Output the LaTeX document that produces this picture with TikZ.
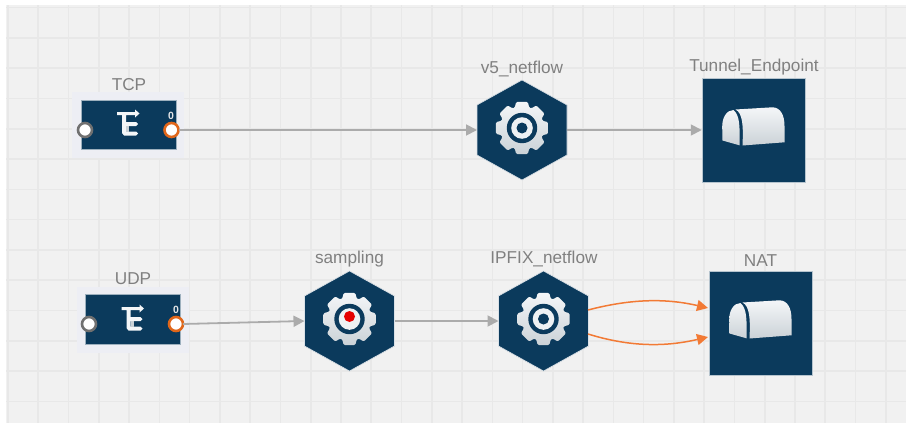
\documentclass[tikz,border=0pt]{standalone}
\usepackage{fontspec}
\setmainfont{Liberation Sans}
\usetikzlibrary{arrows.meta}
\definecolor{navy}{HTML}{0B3A5C}
\definecolor{bggrey}{HTML}{F1F1F1}
\definecolor{gridgrey}{HTML}{E8E8E8}
\definecolor{halo}{HTML}{EDEEF4}
\definecolor{linkgrey}{HTML}{ABABAB}
\definecolor{linkorange}{HTML}{F27A35}
\definecolor{portorange}{HTML}{E0661A}
\definecolor{portgrey}{HTML}{707070}
\definecolor{labelgrey}{HTML}{808080}
\definecolor{iconhi}{HTML}{F4F6F8}
\definecolor{iconlo}{HTML}{CBD2D7}
\tikzset{
  every node/.style={inner sep=0pt,outer sep=0pt},
  lbl/.style={text=labelgrey,font=\fontsize{17.2}{19}\selectfont},
  hexbox/.style={minimum width=90pt,minimum height=100pt},
  sqbox/.style={fill=navy,draw=white!70!navy,line width=.5pt,minimum width=103.5pt,minimum height=104pt},
  srcbox/.style={fill=navy,draw=white!60!navy,line width=.5pt,minimum width=95pt,minimum height=49.5pt},
  haloBox/.style={fill=halo,minimum width=112pt,minimum height=66pt},
  portIn/.style={circle,fill=white,draw=portgrey,line width=2.6pt,minimum size=14pt},
  portOut/.style={circle,fill=white,draw=portorange,line width=2.6pt,minimum size=14pt},
  greylink/.style={draw=linkgrey,line width=1.8pt,-{Triangle[length=11pt,width=11pt]}},
  orangelink/.style={draw=linkorange,line width=1.5pt,-{Triangle[length=11pt,width=11pt]}},
  metal/.style={top color=iconhi,bottom color=iconlo,draw=none},
}
% hexagon node with a gear icon
\newcommand{\gearhex}[4]{%
  \node[hexbox] (#1) at (#2,#3) {};
  \fill[navy,draw=white!85!navy,line width=.6pt] (#2,#3-50) -- (#2+45,#3-25) -- (#2+45,#3+25) -- (#2,#3+50) -- (#2-45,#3+25) -- (#2-45,#3-25) -- cycle;
  \begin{scope}[shift={(#2,#3-2)}]
    \shade[metal,rounded corners=1.2pt] (-20:21.5)
      \foreach \a in {0,45,...,315} { -- (\a-20:21.5) -- (\a-12.5:26.7) -- (\a+12.5:26.7) -- (\a+20:21.5) }
      -- cycle;
    \fill[navy] (0,0) circle (15.2);
    \fill[iconhi!85!iconlo] (0,0) circle (10.8);
    #4
  \end{scope}
}
% mailbox-like tunnel icon
\newcommand{\tunnelicon}[2]{%
  \begin{scope}[shift={(#1,#2)}]
    \shade[metal] (-11,15.5) -- (31,12.3) -- (31,-4) .. controls (31,-15) and (27,-22.5) .. (19,-22.7)
       -- (-18,-20.5) .. controls (-11,-17) and (-10,-5) .. (-11,15.5) -- cycle;
    \shade[metal] (-31,10.5) -- (-14,15.3) .. controls (-13.5,-5) and (-14,-15) .. (-20,-20)
       .. controls (-27,-20) and (-31.5,-12) .. (-31.3,-3) -- cycle;
  \end{scope}
}
% source icon
\newcommand{\sourceicon}[2]{%
  \begin{scope}[shift={(#1,#2)}]
    \fill[iconhi] (-11,-11) -- (7,-11) -- (7,-13.5) -- (11.5,-9.5) -- (7,-5.5) -- (7,-7.8) -- (3,-7.8) -- (-2,-7.8) -- (-2,-1) -- (8,-1) -- (10,1) -- (8,3) -- (-2,3) -- (-2,8.5) -- (8,8.5) -- (10,10.5) -- (8,12.5) -- (-4,12.5) -- (-6,10) -- (-6,-7.8) -- (-11,-7.8) -- cycle;
    \fill[iconlo] (-2,3) rectangle (1,8.5);
  \end{scope}
}
\begin{document}
\begin{tikzpicture}[x=1pt,y=-1pt]
\useasboundingbox (0,0) rectangle (906,423);
\fill[white] (0,0) rectangle (906,423);
\fill[bggrey] (6,5) rectangle (906,423);
\foreach \i in {0,...,29} \draw[gridgrey,line width=1.6pt] ({8+30.27*\i},5) -- ({8+30.27*\i},423);
\foreach \j in {0,...,13} \draw[gridgrey,line width=1.6pt] (6,{7.5+30.3*\j}) -- (906,{7.5+30.3*\j});

% sources
\node[haloBox] (tcphalo) at (128,125) {};
\node[srcbox] (tcp) at (128.5,124.5) {};
\sourceicon{128}{123}
\node[portIn] (tcpin) at (85,130) {};
\node[portOut] (tcpout) at (171.5,130) {};
\node[text=iconhi!85!labelgrey,font=\fontsize{10.5}{12}\selectfont\bfseries] at (171,116) {0};
\node[lbl] at (129,85) {TCP};

\node[haloBox] (udphalo) at (132.5,319.5) {};
\node[srcbox] (udp) at (132.5,319) {};
\sourceicon{132.5}{318}
\node[portIn] (udpin) at (89,324) {};
\node[portOut] (udpout) at (176,324) {};
\node[text=iconhi!85!labelgrey,font=\fontsize{10.5}{12}\selectfont\bfseries] at (176,310) {0};
\node[lbl] at (133,279) {UDP};

% processors
\gearhex{v5}{522}{130}{\fill[navy] (0,0) circle (5.5);}
\node[lbl] at (522,69) {v5\_netflow};
\gearhex{samp}{349.5}{321}{\fill[red!90!black] (0,-2.5) circle (5.5);}
\node[lbl] at (349.5,259) {sampling};
\gearhex{ipfix}{543.5}{321}{\fill[navy] (0,0) circle (5.5);}
\node[lbl] at (544,259) {IPFIX\_netflow};

% tunnels
\node[sqbox] (tunnel) at (753.5,130) {};
\tunnelicon{753.5}{130}
\node[lbl] at (754,67) {Tunnel\_Endpoint};
\node[sqbox] (nat) at (760.5,323) {};
\tunnelicon{760.5}{323}
\node[lbl] at (760.5,261) {NAT};

% connectors
\coordinate (ipfixa) at (588,310);
\coordinate (ipfixb) at (588,334);
\coordinate (nata) at (708,308);
\coordinate (natb) at (708,337);
\draw[greylink] (tcpout.east) -- (v5.west);
\draw[greylink] (v5.east) -- (tunnel.west);
\draw[greylink] (udpout.east) -- (samp.west);
\draw[greylink] (samp.east) -- (ipfix.west);
\draw[orangelink] (ipfixa) .. controls (630,299) and (665,298) .. (nata);
\draw[orangelink] (ipfixb) .. controls (630,347) and (665,347) .. (natb);
\end{tikzpicture}
\end{document}
